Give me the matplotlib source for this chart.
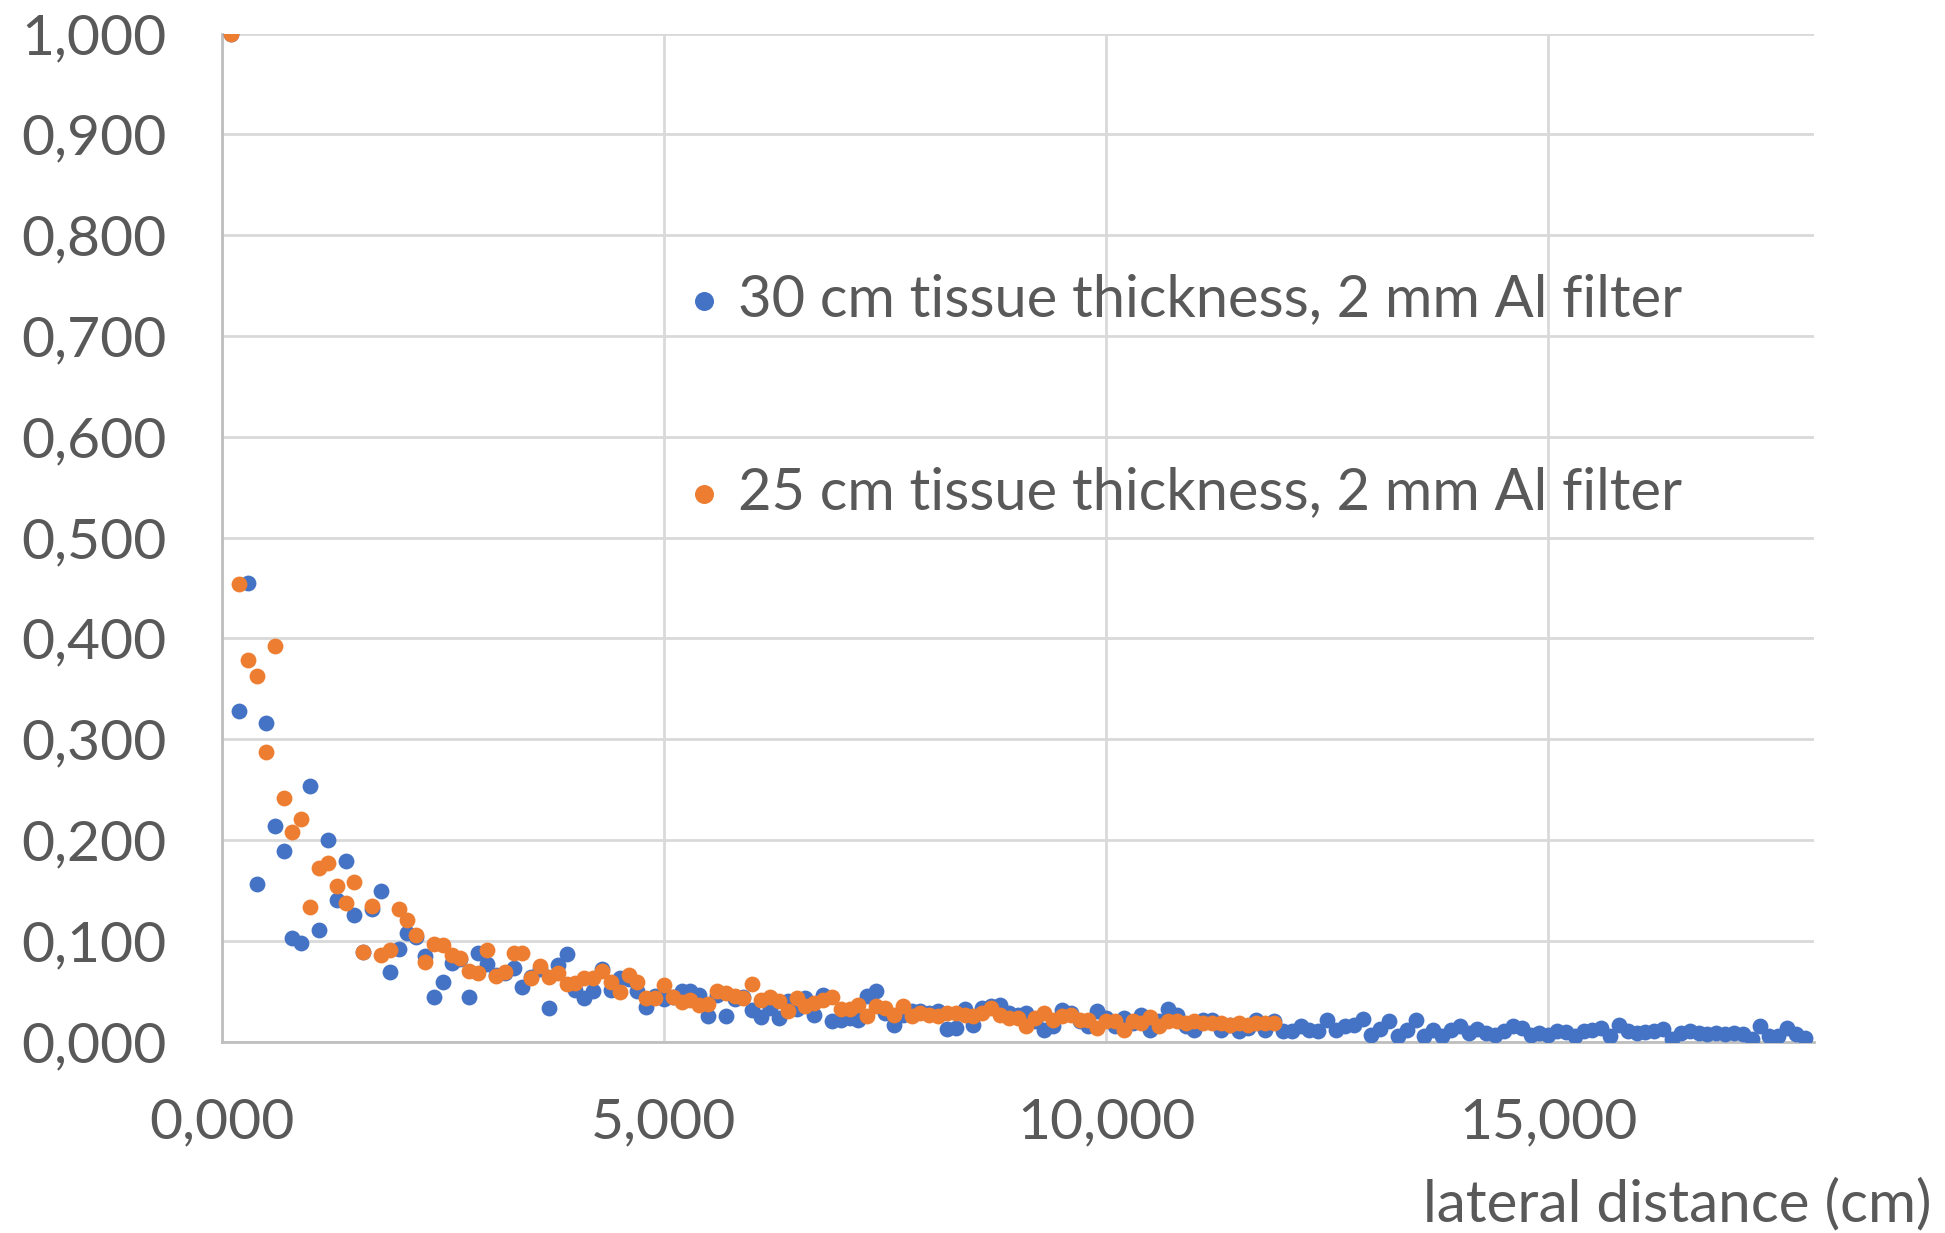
import numpy as np
import matplotlib.pyplot as plt
from matplotlib.ticker import FuncFormatter

# relative dose vs lateral distance, sampled every 0.1 cm starting at 0.1 cm
step = 0.1

dose_30cm = [
    1.000, 0.328, 0.455, 0.156, 0.316, 0.214, 0.189, 0.103, 0.098,
    0.253, 0.111, 0.200, 0.140, 0.179, 0.126, 0.089, 0.131, 0.149, 0.069,
    0.092, 0.108, 0.104, 0.085, 0.044, 0.059, 0.078, 0.082, 0.044, 0.088,
    0.077, 0.066, 0.068, 0.073, 0.054, 0.064, 0.072, 0.033, 0.076, 0.087,
    0.051, 0.043, 0.050, 0.072, 0.051, 0.063, 0.062, 0.050, 0.034, 0.045,
    0.042, 0.044, 0.050, 0.050, 0.046, 0.025, 0.046, 0.025, 0.042, 0.044,
    0.031, 0.024, 0.033, 0.023, 0.040, 0.032, 0.043, 0.026, 0.046, 0.020,
    0.021, 0.023, 0.021, 0.045, 0.050, 0.028, 0.016, 0.026, 0.030, 0.030,
    0.028, 0.030, 0.012, 0.013, 0.032, 0.016, 0.033, 0.035, 0.036, 0.028,
    0.026, 0.028, 0.020, 0.011, 0.015, 0.031, 0.028, 0.020, 0.015, 0.030,
    0.023, 0.015, 0.023, 0.018, 0.026, 0.011, 0.020, 0.032, 0.026, 0.015,
    0.011, 0.021, 0.021, 0.011, 0.016, 0.010, 0.013, 0.021, 0.011, 0.020,
    0.010, 0.010, 0.015, 0.011, 0.010, 0.021, 0.011, 0.015, 0.016, 0.022,
    0.006, 0.012, 0.020, 0.005, 0.011, 0.021, 0.005, 0.011, 0.005, 0.011,
    0.015, 0.008, 0.012, 0.008, 0.006, 0.010, 0.015, 0.013, 0.006, 0.008,
    0.006, 0.010, 0.009, 0.005, 0.010, 0.011, 0.013, 0.005, 0.016, 0.010,
    0.008, 0.009, 0.010, 0.012, 0.002, 0.008, 0.010, 0.008, 0.007, 0.008,
    0.007, 0.008, 0.007, 0.002, 0.015, 0.005, 0.005, 0.013, 0.007, 0.003,
]

dose_25cm = [
    1.000, 0.454, 0.378, 0.363, 0.287, 0.392, 0.242, 0.208, 0.221,
    0.133, 0.172, 0.177, 0.154, 0.137, 0.158, 0.089, 0.134, 0.086, 0.091,
    0.131, 0.121, 0.106, 0.079, 0.097, 0.096, 0.086, 0.083, 0.070, 0.068,
    0.091, 0.065, 0.069, 0.088, 0.088, 0.063, 0.075, 0.064, 0.068, 0.057,
    0.058, 0.063, 0.063, 0.070, 0.059, 0.049, 0.066, 0.059, 0.043, 0.043,
    0.056, 0.044, 0.039, 0.041, 0.036, 0.037, 0.050, 0.048, 0.045, 0.043,
    0.057, 0.041, 0.044, 0.040, 0.030, 0.043, 0.035, 0.038, 0.041, 0.044,
    0.032, 0.032, 0.036, 0.025, 0.035, 0.033, 0.026, 0.035, 0.025, 0.028,
    0.026, 0.025, 0.028, 0.028, 0.026, 0.025, 0.028, 0.033, 0.026, 0.023,
    0.023, 0.015, 0.023, 0.028, 0.021, 0.025, 0.026, 0.021, 0.021, 0.013,
    0.020, 0.020, 0.011, 0.020, 0.018, 0.024, 0.015, 0.020, 0.020, 0.018,
    0.020, 0.018, 0.018, 0.018, 0.016, 0.018, 0.016, 0.018, 0.018, 0.018,
]

labels = ["30 cm tissue thickness, 2 mm Al filter",
          "25 cm tissue thickness, 2 mm Al filter"]
x_ticks = [0, 5, 10, 15]
y_ticks = [0, 0.1, 0.2, 0.3, 0.4, 0.5, 0.6, 0.7, 0.8, 0.9, 1.0]

x30 = np.arange(1, len(dose_30cm) + 1) * step
x25 = np.arange(1, len(dose_25cm) + 1) * step

plt.rcParams['font.family'] = ['Lato', 'DejaVu Sans']
text_col = '#595959'
grid_col = '#D9D9D9'

fig = plt.figure(figsize=(19.45, 12.33), dpi=100)
ax = fig.add_axes([0.114, 0.1553, 0.8184, 0.8175])

ax.scatter(x30, dose_30cm, s=130, color='#4472C4', label=labels[0], zorder=3, linewidths=0)
ax.scatter(x25, dose_25cm, s=130, color='#ED7D31', label=labels[1], zorder=4, linewidths=0)

ax.set_xlim(0, 18)
ax.set_ylim(0, 1)
ax.set_xticks(x_ticks)
ax.set_yticks(y_ticks)

fmt = FuncFormatter(lambda v, p: f"{v:.3f}".replace('.', ','))
ax.xaxis.set_major_formatter(fmt)
ax.yaxis.set_major_formatter(fmt)

ax.grid(True, color=grid_col, linewidth=2, zorder=0)
ax.set_axisbelow(True)
for s in ['top', 'right']:
    ax.spines[s].set_visible(False)
for s in ['left', 'bottom']:
    ax.spines[s].set_color('#BFBFBF')
    ax.spines[s].set_linewidth(2)

ax.tick_params(axis='both', length=0, labelsize=41, labelcolor=text_col)
ax.tick_params(axis='y', pad=40)
ax.tick_params(axis='x', pad=40)

fig.text(0.993, 0.009, "lateral distance (cm)", ha='right', va='baseline',
         fontsize=42, color=text_col)

leg = ax.legend(loc='upper left', bbox_to_anchor=(0.2556, 0.814), frameon=False,
                fontsize=41.6, labelspacing=2.42, handletextpad=0.2,
                handlelength=0.8, markerscale=1.2, labelcolor=text_col)

fig.savefig('out.png', dpi=100)
